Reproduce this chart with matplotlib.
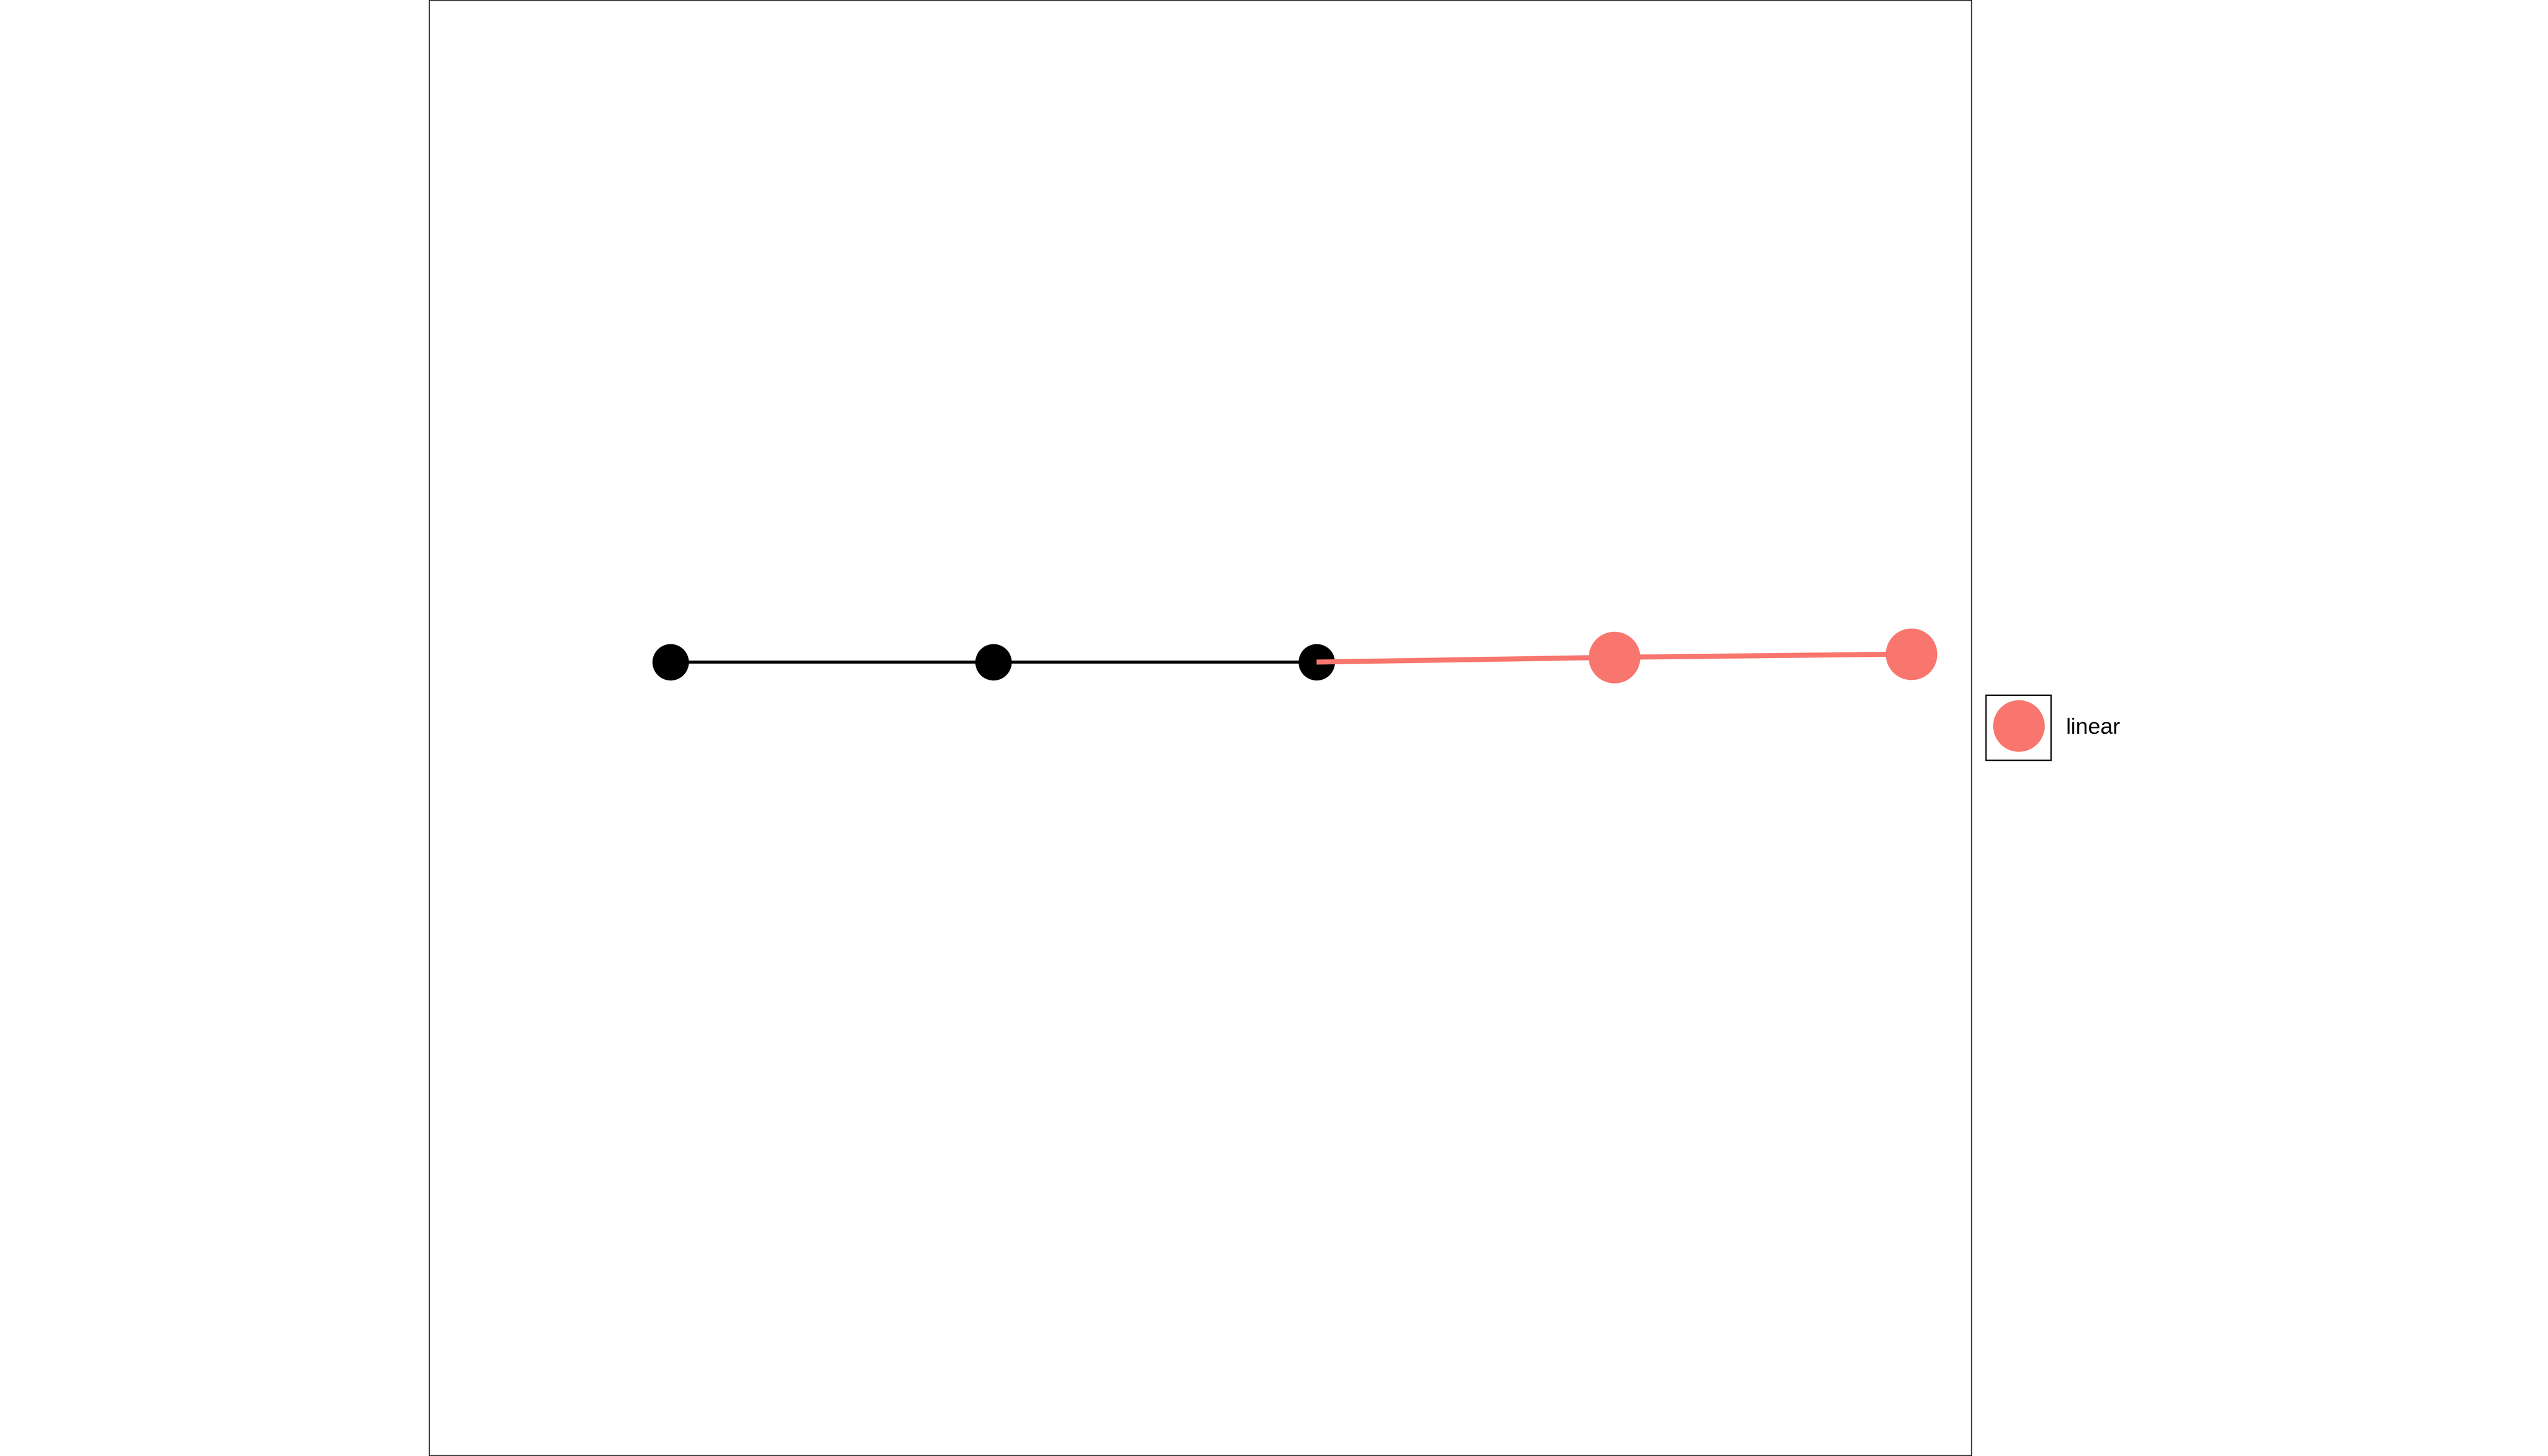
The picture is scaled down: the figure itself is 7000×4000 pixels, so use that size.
import matplotlib
matplotlib.use("Agg")
import matplotlib.pyplot as plt
from matplotlib.lines import Line2D
from matplotlib.patches import Rectangle

# Data
hist_x = [1, 2, 3]
hist_y = [10.0, 10.0, 10.0]
fc_x = [3, 3.922, 4.841]
fc_y = [10.0, 10.013, 10.022]
series_label = "linear"

FC_COLOR = "#F8766D"

plt.rcParams["font.family"] = ["Liberation Sans", "DejaVu Sans"]

fig = plt.figure(figsize=(14, 8), dpi=500)
ax = fig.add_axes([1179 / 7000, 0.0004, (5416 - 1179) / 7000, 0.9993])

ax.plot(hist_x, hist_y, color="black", lw=1.2, marker="o", ms=14.4,
        mfc="black", mec="none", zorder=2, solid_capstyle="butt")
ax.plot(fc_x, fc_y, color=FC_COLOR, lw=2.0, zorder=3, solid_capstyle="butt")
ax.plot(fc_x[1:], fc_y[1:], ls="none", marker="o", ms=20.4, mfc=FC_COLOR,
        mec="none", zorder=4)

ax.set_xlim(0.253, 5.027)
ax.set_ylim(7.82, 11.818)
ax.set_xticks([])
ax.set_yticks([])
for s in ax.spines.values():
    s.set_color("#333333")
    s.set_linewidth(0.4)

handle = Line2D([], [], ls="none", marker="o", ms=20.4, mfc=FC_COLOR, mec="none")
leg = ax.legend([handle], [series_label], loc="center left",
                bbox_to_anchor=(5456 / 7000, 0.5), bbox_transform=fig.transFigure,
                frameon=False, fontsize=8.8, borderpad=0, borderaxespad=0,
                handlelength=179 / 61, handleheight=0.7, handletextpad=40 / 61)

fig.add_artist(Rectangle((5456 / 7000, 1 - 2089 / 4000), 179 / 7000, 179 / 4000,
                         transform=fig.transFigure, fill=False, ec="black", lw=0.55))

fig.savefig("out.png", dpi=500, facecolor="white")
